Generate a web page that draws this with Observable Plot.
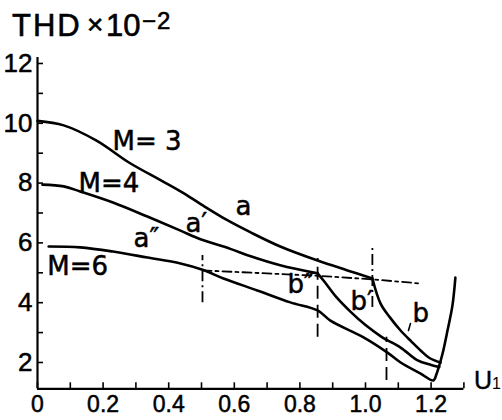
<!DOCTYPE html>
<html>
<head>
<meta charset="utf-8">
<script src="https://cdn.jsdelivr.net/npm/d3@7"></script>
<script src="https://cdn.jsdelivr.net/npm/@observablehq/plot@0.6"></script>
<style>
  html, body { margin: 0; padding: 0; background: #fff; }
  #wrap { width: 502px; height: 420px; overflow: hidden; background: #fff; }
  #title { position: relative; height: 45px; font-family: "Liberation Sans", Arial, sans-serif; color: #000; -webkit-text-stroke: 0.6px #000; }
  #title span { position: absolute; line-height: 1; white-space: nowrap; }
</style>
</head>
<body>
<div id="wrap">
  <div id="title">
    <span style="left:12px;top:10px;font-size:31px;letter-spacing:2px">THD</span>
    <span style="left:87px;top:11px;font-size:28px">×</span>
    <span style="left:106px;top:10px;font-size:31px">10</span>
    <span style="left:142px;top:9px;font-size:24px;letter-spacing:1px">−2</span>
  </div>
  <div id="chart"></div>
</div>
<script>
// ---- data ----
// M = 3, branch a
const m3aX = [0, 0.08, 0.18, 0.28, 0.375, 0.44, 0.5, 0.58, 0.65, 0.74, 0.854, 0.945, 1.021];
const m3aY = [10.08, 9.93, 9.42, 8.68, 8.1, 7.7, 7.28, 6.75, 6.35, 5.88, 5.41, 5.08, 4.81];
// M = 3, branch b
const m3bX = [1.021, 1.046, 1.075, 1.107, 1.14, 1.168, 1.195, 1.229];
const m3bY = [4.81, 3.97, 3.5, 3.07, 2.7, 2.4, 2.15, 2.0];
// M = 4, branch a'
const m4aX = [0.015, 0.08, 0.13, 0.23, 0.335, 0.436, 0.497, 0.588, 0.65, 0.74, 0.854];
const m4aY = [7.95, 7.89, 7.72, 7.35, 6.88, 6.41, 6.12, 5.8, 5.55, 5.25, 4.98];
// M = 4, branch b'
const m4bX = [0.854, 0.875, 0.91, 0.954, 1.0, 1.05, 1.107, 1.159, 1.2, 1.225];
const m4bY = [4.98, 4.7, 4.2, 3.7, 3.25, 2.85, 2.5, 2.07, 1.92, 1.85];
// M = 6 (a'' / b'') with the rising branch
const m6X = [0.034, 0.13, 0.23, 0.335, 0.436, 0.503, 0.567, 0.67, 0.771, 0.854, 0.893, 0.994, 1.067, 1.107, 1.168, 1.207, 1.216, 1.223, 1.235, 1.25, 1.265, 1.274];
const m6Y = [5.88, 5.85, 5.71, 5.51, 5.31, 5.1, 4.81, 4.41, 4.01, 3.74, 3.4, 2.84, 2.33, 2.0, 1.63, 1.4, 1.6, 1.83, 2.3, 3.07, 3.9, 4.84];
// dash-dot threshold line
const limitX = [0.503, 0.854, 1.021, 1.168];
const limitY = [5.08, 4.9, 4.78, 4.64];
// vertical markers
const dashDotX = [0.503, 1.021];
const dashDotTop = [5.58, 5.91];
const dashDotBottom = [4.0, 3.84];
const dashedX = [0.854, 1.064];
const dashedTop = [5.48, 2.84];
const dashedBottom = [2.84, 1.4];
// curve labels
const labelText = ["M= 3", "M=4", "M=6", "a", "a′", "a″", "b", "b′", "b″"];
const labelX = [0.229, 0.125, 0.03, 0.604, 0.451, 0.293, 1.143, 0.954, 0.762];
const labelY = [9.09, 7.69, 4.91, 6.92, 6.35, 5.85, 3.34, 3.74, 4.31];
// small leader near "b"
const leaderX = [1.131, 1.137];
const leaderY = [3.07, 3.3];
// axes
const xTicks = [0, 0.1, 0.2, 0.3, 0.4, 0.5, 0.6, 0.7, 0.8, 0.9, 1.0, 1.1, 1.2, 1.3];
const xTickLabels = ["0", "", "0.2", "", "0.4", "", "0.6", "", "0.8", "", "1.0", "", "1.2", ""];
const yTicks = [2, 3, 4, 5, 6, 7, 8, 9, 10, 11, 12];
const yTickLabels = ["2", "", "4", "", "6", "", "8", "", "10", "", "12"];
const xDomain = [0, 1.3];
const yDomain = [1.12, 12.2];

// ---- build tables ----
const curves = [];
function addSeries(name, xs, ys) { xs.forEach((x, i) => curves.push({series: name, x, y: ys[i]})); }
addSeries("M3a", m3aX, m3aY);
addSeries("M3b", m3bX, m3bY);
addSeries("M4a", m4aX, m4aY);
addSeries("M4b", m4bX, m4bY);
addSeries("M6", m6X, m6Y);
const limit = limitX.map((x, i) => ({x, y: limitY[i]}));
const dd = dashDotX.map((x, i) => ({x, y1: dashDotBottom[i], y2: dashDotTop[i]}));
const ds = dashedX.map((x, i) => ({x, y1: dashedBottom[i], y2: dashedTop[i]}));
const labels = labelText.map((t, i) => ({t, x: labelX[i], y: labelY[i]}));
const leader = leaderX.map((x, i) => ({x, y: leaderY[i]}));

const chart = Plot.plot({
  width: 502,
  height: 375,
  marginTop: 12,
  marginLeft: 37,
  marginRight: 38.6,
  marginBottom: 31.7,
  x: {domain: xDomain},
  y: {domain: yDomain},
  style: {background: "white", color: "black", fontFamily: "'Liberation Sans', Arial, sans-serif", overflow: "visible"},
  marks: [
    Plot.ruleX([xDomain[0]], {stroke: "black", strokeWidth: 2.2}),
    Plot.ruleY([yDomain[0]], {stroke: "black", strokeWidth: 2.2}),
    Plot.axisY(yTicks, {anchor: "left", tickSize: -6, tickPadding: 11, strokeWidth: 1.6,
      tickFormat: d => yTickLabels[yTicks.indexOf(d)], fontSize: 26, label: null,
      textStroke: "black", textStrokeWidth: 0.5}),
    Plot.axisX(xTicks, {anchor: "bottom", tickSize: -6, tickPadding: 13, strokeWidth: 1.6,
      tickFormat: d => xTickLabels[xTicks.indexOf(d)], fontSize: 23, label: null,
      textStroke: "black", textStrokeWidth: 0.5}),
    Plot.ruleX(dd, {x: "x", y1: "y1", y2: "y2", stroke: "black", strokeWidth: 1.8, strokeDasharray: "11,4,2,4"}),
    Plot.ruleX(ds, {x: "x", y1: "y1", y2: "y2", stroke: "black", strokeWidth: 1.8, strokeDasharray: "13,6"}),
    Plot.line(limit, {x: "x", y: "y", stroke: "black", strokeWidth: 1.8, strokeDasharray: "9,4,3,4"}),
    Plot.line(curves, {x: "x", y: "y", z: "series", curve: "catmull-rom", stroke: "black", strokeWidth: 2.6}),
    Plot.line(leader, {x: "x", y: "y", stroke: "black", strokeWidth: 1.6}),
    Plot.text(labels, {x: "x", y: "y", text: "t", textAnchor: "start", lineAnchor: "bottom",
      fontSize: 26, fontFamily: "'DejaVu Sans', sans-serif", fill: "black", stroke: "black", strokeWidth: 0.5}),
    Plot.text(["U"], {frameAnchor: "bottom-right", textAnchor: "start", lineAnchor: "bottom", dx: 10,
      fontSize: 25, fill: "black", stroke: "black", strokeWidth: 0.4}),
    Plot.text(["1"], {frameAnchor: "bottom-right", textAnchor: "start", lineAnchor: "bottom", dx: 28,
      fontSize: 16, fill: "black"})
  ]
});
document.getElementById("chart").appendChild(chart);
</script>
</body>
</html>
